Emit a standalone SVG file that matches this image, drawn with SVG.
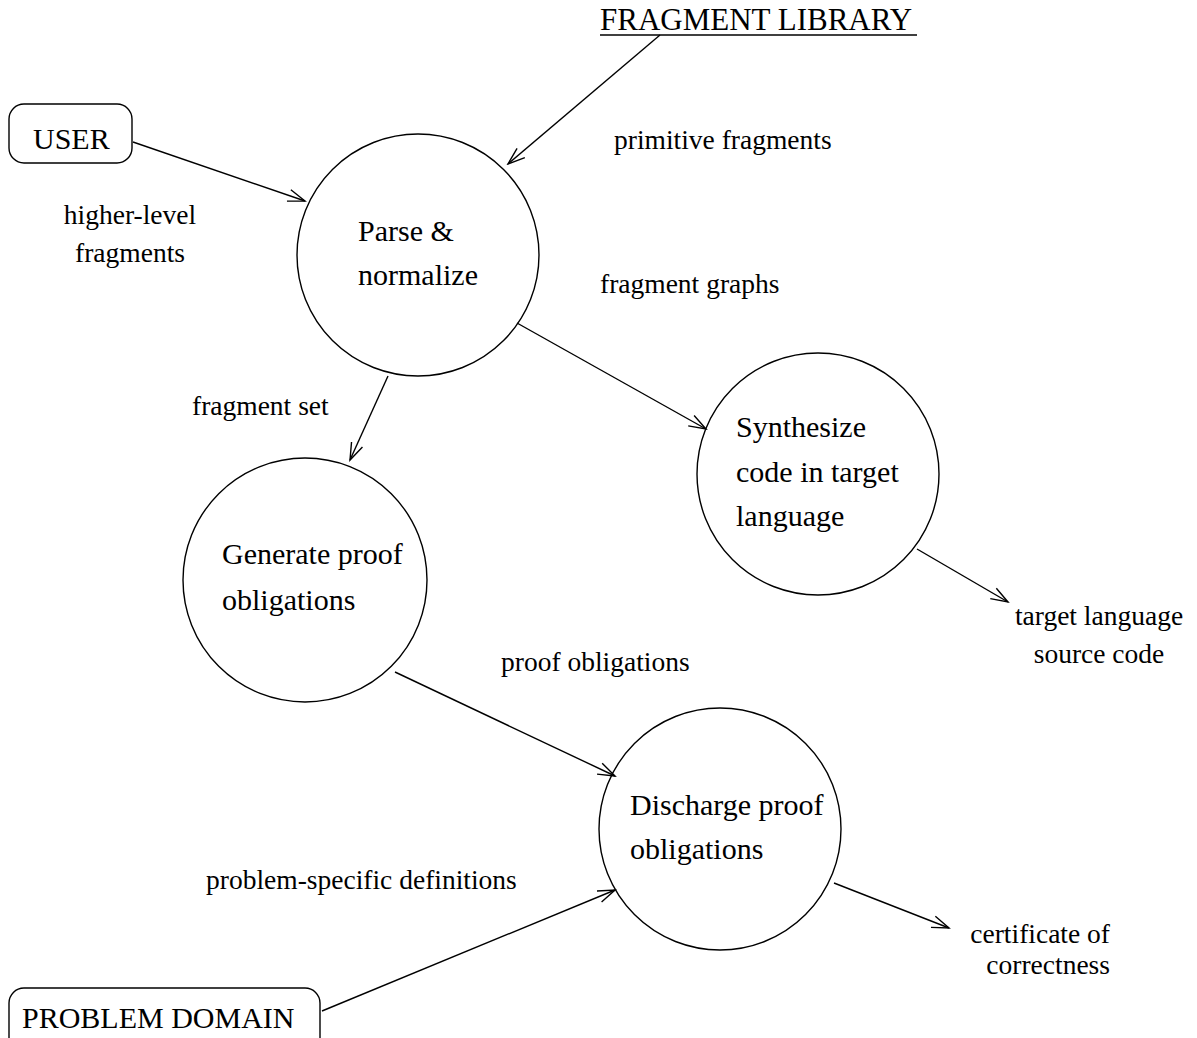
<svg xmlns="http://www.w3.org/2000/svg" width="1197" height="1038" viewBox="0 0 1197 1038">
<style>
  .node { fill: none; stroke: #000; stroke-width: 1.4; }
  .nt { font-family: "Liberation Serif", "Times New Roman", serif; font-size: 30px; fill: #000; }
  .lbl { font-family: "Liberation Serif", "Times New Roman", serif; font-size: 27.5px; fill: #000; }
  .edge { fill: none; stroke: #000; stroke-width: 1.4; marker-end: url(#arr); }
</style>
<defs>
  <marker id="arr" markerUnits="userSpaceOnUse" viewBox="-20 -10 22 20" refX="0" refY="0" markerWidth="22" markerHeight="20" orient="auto">
    <path d="M-17,-6 L0,0 L-17,6" fill="none" stroke="#000" stroke-width="1.4"/>
  </marker>
</defs>
<rect width="1197" height="1038" fill="#fff"/>

<g id="user">
  <rect class="node" x="9" y="104" width="123" height="59" rx="15" ry="15"/>
  <text class="nt" x="33" y="149">USER</text>
</g>
<g id="fragment-library">
  <line x1="600" y1="35" x2="917" y2="35" stroke="#000" stroke-width="1.4"/>
  <text class="nt" x="600" y="30" style="font-size:31px">FRAGMENT LIBRARY</text>
</g>
<g id="problem-domain">
  <rect class="node" x="9" y="988" width="311" height="70" rx="15" ry="15"/>
  <text class="nt" x="22" y="1028">PROBLEM DOMAIN</text>
</g>
<g id="parse">
  <circle class="node" cx="418" cy="255" r="121"/>
  <text class="nt" x="358" y="241">Parse &amp;</text>
  <text class="nt" x="358" y="285">normalize</text>
</g>
<g id="synthesize">
  <circle class="node" cx="818" cy="474" r="121"/>
  <text class="nt" x="736" y="437">Synthesize</text>
  <text class="nt" x="736" y="482">code in target</text>
  <text class="nt" x="736" y="526">language</text>
</g>
<g id="generate">
  <circle class="node" cx="305" cy="580" r="122"/>
  <text class="nt" x="222" y="564">Generate proof</text>
  <text class="nt" x="222" y="610">obligations</text>
</g>
<g id="discharge">
  <circle class="node" cx="720" cy="829" r="121"/>
  <text class="nt" x="630" y="815">Discharge proof</text>
  <text class="nt" x="630" y="859">obligations</text>
</g>

<g id="connectors">
  <line class="edge" x1="133" y1="142" x2="305" y2="201"/>
  <line class="edge" x1="660" y1="35" x2="508" y2="164"/>
  <line class="edge" x1="388" y1="376" x2="350" y2="460"/>
  <line class="edge" x1="517" y1="323" x2="706" y2="429"/>
  <line class="edge" x1="917" y1="549" x2="1008" y2="602"/>
  <line class="edge" x1="395" y1="672" x2="615" y2="776"/>
  <line class="edge" x1="322" y1="1011" x2="615" y2="890"/>
  <line class="edge" x1="834" y1="883" x2="949" y2="928"/>
</g>

<g id="labels">
  <text class="lbl" x="614" y="149">primitive fragments</text>
  <text class="lbl" x="130" y="224" text-anchor="middle">higher-level</text>
  <text class="lbl" x="130" y="262" text-anchor="middle">fragments</text>
  <text class="lbl" x="600" y="293">fragment graphs</text>
  <text class="lbl" x="192" y="415">fragment set</text>
  <text class="lbl" x="501" y="671">proof obligations</text>
  <text class="lbl" x="1099" y="625" text-anchor="middle">target language</text>
  <text class="lbl" x="1099" y="663" text-anchor="middle">source code</text>
  <text class="lbl" x="206" y="889">problem-specific definitions</text>
  <text class="lbl" x="1110" y="943" text-anchor="end">certificate of</text>
  <text class="lbl" x="1110" y="974" text-anchor="end">correctness</text>
</g>
</svg>
